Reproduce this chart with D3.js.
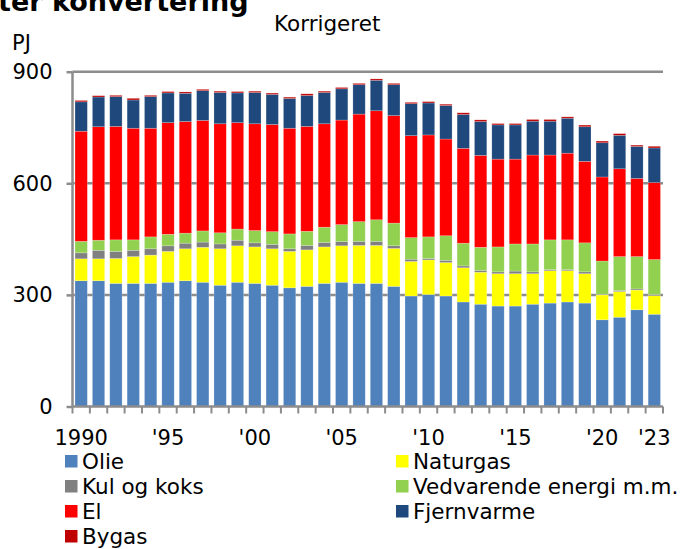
<!DOCTYPE html>
<html>
<head>
<meta charset="utf-8">
<script src="https://cdn.jsdelivr.net/npm/d3@7"></script>
<style>
body { margin: 0; background: #fff; }
text { font-family: "DejaVu Sans", Verdana, sans-serif; fill: #000; }
</style>
</head>
<body>
<svg id="chart" width="681" height="549"></svg>
<script>
// PJ pr. år
const years = d3.range(1990, 2024)
const olie = [338, 338, 331, 331, 331, 334, 338, 334, 326, 334, 331, 326, 319, 323, 331, 334, 331, 331, 323, 297, 301, 297, 281, 275, 270, 270, 275, 278, 281, 278, 233, 240, 260, 248]
const naturgas = [59, 59, 67, 72, 76, 83, 86, 94, 98, 98, 98, 98, 98, 98, 98, 98, 102, 102, 102, 93, 93, 90, 92, 86, 87, 87, 82, 87, 84, 79, 67, 69, 53, 50]
const kul = [16, 23, 19, 17, 17, 15, 15, 14, 13, 15, 11, 12, 7, 12, 12, 11, 11, 11, 7, 6, 4, 6, 5, 5, 5, 7, 5, 3, 3, 5, 2, 3, 3, 3]
const vedvarende = [31, 27, 31, 28, 32, 31, 27, 30, 30, 30, 33, 34, 40, 38, 41, 46, 53, 58, 61, 58, 58, 66, 61, 62, 67, 73, 75, 80, 80, 78, 89, 91, 87, 94]
const el = [296, 305, 305, 300, 292, 300, 300, 297, 293, 286, 287, 288, 284, 282, 278, 281, 289, 293, 289, 274, 274, 260, 255, 247, 236, 228, 239, 228, 233, 219, 226, 236, 210, 207]
const fjernvarme = [79, 80, 80, 76, 85, 80, 76, 80, 84, 80, 84, 81, 80, 83, 84, 84, 79, 82, 83, 86, 86, 90, 91, 91, 92, 92, 91, 91, 94, 93, 92, 90, 86, 93]
const bygas = [3.7, 3.5, 3.5, 4.5, 3.5, 3.6, 3.6, 3.6, 3.6, 3.6, 3.6, 3.5, 3.6, 4.5, 3.6, 3.6, 3.6, 3.6, 3.6, 3.6, 3.6, 3.6, 4.5, 4.5, 3.6, 3.6, 4.5, 4.5, 3.6, 4.5, 4.5, 4.5, 3.6, 4.5]

const seriesNames = ['Olie', 'Naturgas', 'Kul og koks', 'Vedvarende energi m.m.', 'El', 'Fjernvarme', 'Bygas']
const seriesValues = [olie, naturgas, kul, vedvarende, el, fjernvarme, bygas]
const seriesColors = ['#4f81bd', '#ffff00', '#808080', '#92d050', '#ff0000', '#1f497d', '#c00000']
const xTickYears = [1990, 1995, 2000, 2005, 2010, 2015, 2020, 2023]
const xTickLabels = ['1990', "'95", "'00", "'05", "'10", "'15", "'20", "'23"]
const yTicks = [0, 300, 600, 900]

const gridColor = '#8c8c8c'
const svg = d3.select('#chart')

let rows = years.map((yr, i) => {
    let r = { year: yr }
    seriesNames.forEach((s, j) => r[s] = seriesValues[j][i])
    return r
})
let stacked = d3.stack().keys(seriesNames)(rows)

let x = d3.scaleBand()
    .domain(years)
    .range([72.5, 663])
    .paddingInner(0.29)
    .paddingOuter(0.145)
let y = d3.scaleLinear()
    .domain([0, 900])
    .range([406.5, 71.7])

// titel (beskåret i toppen)
svg.append('text')
    .attr('x', -2)
    .attr('y', 11)
    .attr('font-size', 27)
    .attr('font-weight', 'bold')
    .text('ter konvertering')
svg.append('text')
    .attr('x', 274)
    .attr('y', 31)
    .attr('font-size', 21.5)
    .text('Korrigeret')
svg.append('text')
    .attr('x', 12)
    .attr('y', 50)
    .attr('font-size', 21)
    .text('PJ')

// gitterlinjer
svg.append('g')
    .selectAll('line')
    .data(yTicks.slice(1))
    .join('line')
    .attr('x1', 72.5)
    .attr('x2', 663)
    .attr('y1', d => y(d))
    .attr('y2', d => y(d))
    .attr('stroke', gridColor)
    .attr('stroke-width', 2.5)

// søjler
svg.append('g')
    .selectAll('g')
    .data(stacked)
    .join('g')
    .attr('fill', (d, i) => seriesColors[i])
    .selectAll('rect')
    .data(d => d)
    .join('rect')
    .attr('x', d => x(d.data.year))
    .attr('width', x.bandwidth())
    .attr('y', d => y(d[1]))
    .attr('height', d => y(d[0]) - y(d[1]))
    .attr('stroke', '#ffffff')
    .attr('stroke-opacity', 0.35)
    .attr('stroke-width', 0.6)

// y-akse
let yAxis = svg.append('g')
    .attr('transform', 'translate(72.5,0)')
    .call(d3.axisLeft(y).tickValues(yTicks).tickSize(6).tickPadding(14))
yAxis.select('.domain').remove()
yAxis.selectAll('line').attr('stroke', gridColor).attr('stroke-width', 2.5)
yAxis.selectAll('text').attr('font-size', 21).attr('font-family', null)
svg.append('line')
    .attr('x1', 72.5).attr('x2', 72.5)
    .attr('y1', y(0)).attr('y2', y(900))
    .attr('stroke', gridColor)
    .attr('stroke-width', 2.5)

// x-akse
let gap = (x.step() - x.bandwidth()) / 2
let edges = years.map(d => x(d) - gap).concat([663])
svg.append('g')
    .selectAll('line')
    .data(edges)
    .join('line')
    .attr('x1', d => d).attr('x2', d => d)
    .attr('y1', y(0)).attr('y2', y(0) + 7)
    .attr('stroke', gridColor)
    .attr('stroke-width', 2)
svg.append('line')
    .attr('x1', 72.5).attr('x2', 663)
    .attr('y1', y(0)).attr('y2', y(0))
    .attr('stroke', gridColor)
    .attr('stroke-width', 2.5)
let xAxis = svg.append('g')
    .attr('transform', `translate(0,${y(0)})`)
    .call(d3.axisBottom(x)
        .tickValues(xTickYears)
        .tickFormat(d => xTickLabels[xTickYears.indexOf(d)])
        .tickSize(0)
        .tickPadding(24))
xAxis.select('.domain').remove()
xAxis.selectAll('text').attr('font-size', 21).attr('font-family', null)

// forklaring
let legend = svg.append('g')
    .selectAll('g')
    .data(seriesNames)
    .join('g')
    .attr('transform', (d, i) => `translate(${i % 2 ? 396 : 65},${455 + Math.floor(i / 2) * 25})`)
legend.append('rect')
    .attr('width', 12.5)
    .attr('height', 12.5)
    .attr('fill', (d, i) => seriesColors[i])
legend.append('text')
    .attr('x', 17)
    .attr('y', 14)
    .attr('font-size', 21.5)
    .text(d => d)
</script>
</body>
</html>
